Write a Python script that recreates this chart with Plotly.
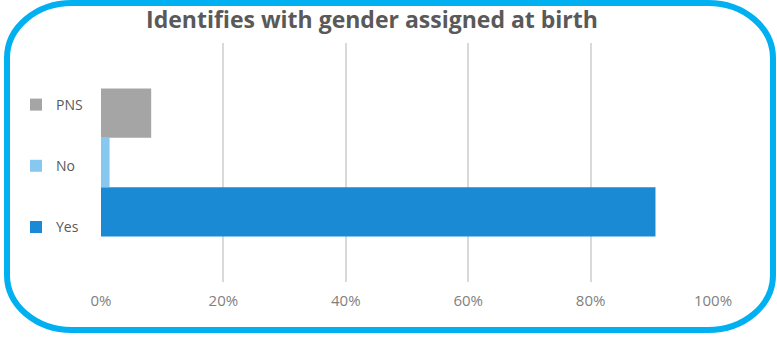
import plotly.graph_objects as go

categories = ["Yes", "No", "PNS"]
values = [0.906, 0.014, 0.082]
colors = ["#1a8ad4", "#86c8f0", "#a5a5a5"]
legend_ranks = [3, 2, 1]
tick_vals = [0, 0.2, 0.4, 0.6, 0.8, 1.0]
tick_text = ["0%", "20%", "40%", "60%", "80%", "100%"]
title_text = "Identifies with gender assigned at birth"

W, H = 777, 338
L, R, T, B = 101, 64, 43, 56
pw, ph = W - L - R, H - T - B

fig = go.Figure()
for c, v, col, rk in zip(categories, values, colors, legend_ranks):
    fig.add_trace(go.Bar(
        y=["g"], x=[v], name=c, orientation="h",
        marker=dict(color=col, line=dict(width=0)),
        legendgroup=c, legendrank=rk,
    ))

def px2p(x, y):
    return (x - L) / pw, (H - B - y) / ph

x0, x1, y0, y1 = 7, 773, 3, 330
rx, ry = 65, 55
k = 0.5523
def P(x, y):
    a, b = px2p(x, y)
    return f"{a:.5f},{b:.5f}"
path = (
    f"M{P(x0 + rx, y0)} L{P(x1 - rx, y0)} "
    f"C{P(x1 - rx + k*rx, y0)} {P(x1, y0 + ry - k*ry)} {P(x1, y0 + ry)} "
    f"L{P(x1, y1 - ry)} "
    f"C{P(x1, y1 - ry + k*ry)} {P(x1 - rx + k*rx, y1)} {P(x1 - rx, y1)} "
    f"L{P(x0 + rx, y1)} "
    f"C{P(x0 + rx - k*rx, y1)} {P(x0, y1 - ry + k*ry)} {P(x0, y1 - ry)} "
    f"L{P(x0, y0 + ry)} "
    f"C{P(x0, y0 + ry - k*ry)} {P(x0 + rx - k*rx, y0)} {P(x0 + rx, y0)} Z"
)
fig.add_shape(type="path", xref="paper", yref="paper", path=path,
              line=dict(color="#00b0f0", width=6), fillcolor="rgba(0,0,0,0)")

lx, ly = px2p(16, 89)
fig.update_layout(
    width=W, height=H,
    margin=dict(l=L, r=R, t=T, b=B, pad=0),
    paper_bgcolor="white", plot_bgcolor="white",
    barmode="group", bargap=0.38, bargroupgap=0,
    font=dict(family="Open Sans", color="#595959"),
    title=dict(text=title_text, x=372 / W, xanchor="center", y=1 - 20 / H, yanchor="middle",
               font=dict(size=23, color="#595959", family="Open Sans", weight="bold")),
    xaxis=dict(range=[0, 1.0], tickvals=tick_vals, ticktext=tick_text,
               showgrid=True, gridcolor="#d9d9d9", gridwidth=1.5, zeroline=False,
               showline=False, ticks="", tickfont=dict(size=15, color="#7f7f7f"),
               ticklabelstandoff=8),
    yaxis=dict(showticklabels=False, showgrid=False, zeroline=False, showline=False),
    legend=dict(x=lx, y=ly, xanchor="left", yanchor="top", traceorder="grouped",
                tracegroupgap=40, font=dict(size=14, color="#595959"),
                bgcolor="rgba(0,0,0,0)", itemwidth=30),
    showlegend=True,
)
fig.write_html("out.html")
